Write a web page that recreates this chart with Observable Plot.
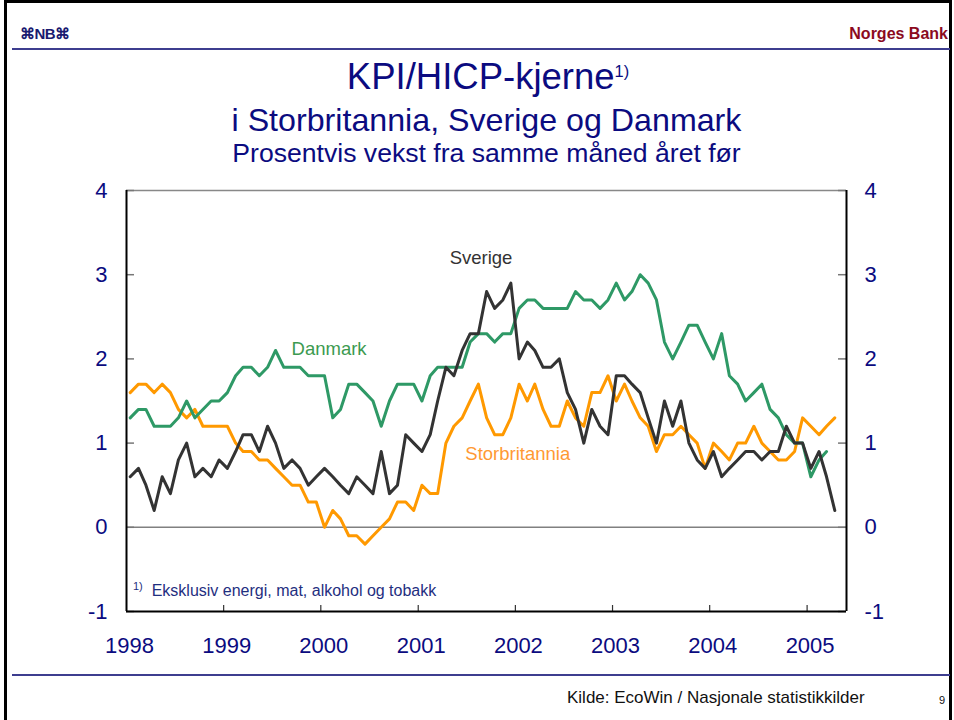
<!DOCTYPE html>
<html><head><meta charset="utf-8">
<script src="https://cdn.jsdelivr.net/npm/d3@7"></script>
<script src="https://cdn.jsdelivr.net/npm/@observablehq/plot@0.6"></script>
<style>
body{margin:0;background:#fff;font-family:"Liberation Sans",Arial,Helvetica,sans-serif;}
#page{position:relative;width:954px;height:720px;overflow:hidden;background:#fff;}
.abs{position:absolute;white-space:nowrap;line-height:1;}
#chart{position:absolute;left:0;top:170px;}
sup{font-size:0.45em;vertical-align:0.75em;line-height:0;}
</style></head><body>
<div id="page">
  <div class="abs" style="left:4px;top:0;width:942px;height:720px;border-left:3px solid #000;border-top:3px solid #000;border-right:3px solid #000;"></div>
  <div class="abs" style="left:20px;top:26px;font-size:15px;font-weight:bold;color:#1a1a70;letter-spacing:-0.5px;">⌘NB⌘</div>
  <div class="abs" style="right:6px;top:26px;font-size:16px;font-weight:bold;color:#8b0a1e;">Norges Bank</div>
  <div class="abs" style="left:12px;top:48px;width:938px;height:2px;background:#3d3d8f;"></div>
  <div class="abs" style="left:0;width:976px;text-align:center;top:59px;font-size:36.5px;color:#0b0b80;">KPI/HICP-kjerne<sup>1)</sup></div>
  <div class="abs" style="left:0;width:973px;text-align:center;top:104px;font-size:32.2px;color:#0b0b80;">i Storbritannia, Sverige og Danmark</div>
  <div class="abs" style="left:0;width:973px;text-align:center;top:140px;font-size:26.6px;color:#0b0b80;">Prosentvis vekst fra samme måned året før</div>
  <div id="chart"></div>
  <div class="abs" style="left:133px;top:583px;font-size:16px;color:#1f2f7f;"><sup style="font-size:11px;vertical-align:6px;">1)</sup>&nbsp; Eksklusiv energi, mat, alkohol og tobakk</div>
  <div class="abs" style="left:12px;top:674px;width:938px;height:2px;background:#3d3d8f;"></div>
  <div class="abs" style="left:567px;top:689px;font-size:17px;color:#111;">Kilde: EcoWin / Nasjonale statistikkilder</div>
  <div class="abs" style="left:939px;top:695px;font-size:11px;color:#111;">9</div>
</div>
<script>
// Monthly data, January 1998 – April 2005
const seriesNames = ["Storbritannia", "Danmark", "Sverige"];
const seriesColors = ["#ff9900", "#2e9966", "#333333"];

const sverige = [
  0.6,0.7,0.5,0.2,0.6,0.4,0.8,1.0,0.6,0.7,0.6,0.8,
  0.7,0.9,1.1,1.1,0.9,1.2,1.0,0.7,0.8,0.7,0.5,0.6,
  0.7,0.6,0.5,0.4,0.6,0.5,0.4,0.9,0.4,0.5,1.1,1.0,
  0.9,1.1,1.5,1.9,1.8,2.1,2.3,2.3,2.8,2.6,2.7,2.9,
  2.0,2.2,2.1,1.9,1.9,2.0,1.6,1.4,1.0,1.4,1.2,1.1,
  1.8,1.8,1.7,1.6,1.3,1.0,1.5,1.2,1.5,1.0,0.8,0.7,
  0.9,0.6,0.7,0.8,0.9,0.9,0.8,0.9,0.9,1.2,1.0,1.0,
  0.7,0.9,0.6,0.2
];
const danmark = [
  1.3,1.4,1.4,1.2,1.2,1.2,1.3,1.5,1.3,1.4,1.5,1.5,
  1.6,1.8,1.9,1.9,1.8,1.9,2.1,1.9,1.9,1.9,1.8,1.8,
  1.8,1.3,1.4,1.7,1.7,1.6,1.5,1.2,1.5,1.7,1.7,1.7,
  1.5,1.8,1.9,1.9,1.9,1.9,2.2,2.3,2.3,2.2,2.3,2.3,
  2.6,2.7,2.7,2.6,2.6,2.6,2.6,2.8,2.7,2.7,2.6,2.7,
  2.9,2.7,2.8,3.0,2.9,2.7,2.2,2.0,2.2,2.4,2.4,2.2,
  2.0,2.3,1.8,1.7,1.5,1.6,1.7,1.4,1.3,1.1,1.0,1.0,
  0.6,0.8,0.9
];
const storbritannia = [
  1.6,1.7,1.7,1.6,1.7,1.6,1.4,1.3,1.4,1.2,1.2,1.2,
  1.2,1.0,0.9,0.9,0.8,0.8,0.7,0.6,0.5,0.5,0.3,0.3,
  0.0,0.2,0.1,-0.1,-0.1,-0.2,-0.1,0.0,0.1,0.3,0.3,0.2,
  0.5,0.4,0.4,1.0,1.2,1.3,1.5,1.7,1.3,1.1,1.1,1.3,
  1.7,1.5,1.7,1.4,1.2,1.2,1.5,1.3,1.2,1.6,1.6,1.8,
  1.5,1.7,1.5,1.3,1.2,0.9,1.1,1.1,1.2,1.1,1.0,0.7,
  1.0,0.9,0.8,1.0,1.0,1.2,1.0,0.9,0.8,0.8,0.9,1.3,
  1.2,1.1,1.2,1.3
];

const yTicks = [-1, 0, 1, 2, 3, 4];
const yearTicks = [1998, 1999, 2000, 2001, 2002, 2003, 2004, 2005];

// Series labels (annotation positions)
const labelNames = ["Sverige", "Danmark", "Storbritannia"];
const labelDates = ["2001-08-25", "2000-02-01", "2002-01-10"];
const labelValues = [3.2, 2.12, 0.87];
const labelColors = ["#333333", "#3c9a50", "#ff9933"];

const navy = "#0b0b80";
const month = i => new Date(Date.UTC(1998, i, 15));
const seriesValues = [storbritannia, danmark, sverige];
const rows = seriesNames.map((name, k) =>
  seriesValues[k].map((v, i) => ({name, date: month(i), value: v})));

const x0 = new Date(Date.UTC(1998, 0, 1));
const x1 = new Date(Date.UTC(2005, 4, 29));
const years = yearTicks.map(y => new Date(Date.UTC(y, 0, 1)));
const fmt = d => d < 0 ? "-" + Math.abs(d) : String(d);
const tickLen = 30; // days (≈8px)

const labels = labelNames.map((n, i) => ({name: n, date: new Date(labelDates[i]), value: labelValues[i], color: labelColors[i]}));

const chart = Plot.plot({
  width: 954,
  height: 500,
  marginTop: 20,
  marginBottom: 59,
  marginLeft: 126,
  marginRight: 108,
  x: {type: "utc", domain: [x0, x1]},
  y: {domain: [-1, 4]},
  style: {fontFamily: '"Liberation Sans", Arial, sans-serif', background: "transparent", color: navy, overflow: "visible"},
  marks: [
    Plot.ruleY([4], {stroke: "#888", strokeWidth: 1.5}),
    Plot.ruleY([0], {stroke: "#808080", strokeWidth: 1.5}),
    Plot.ruleY(yTicks, {x1: x0, x2: d3.utcDay.offset(x0, tickLen), stroke: "#777", strokeWidth: 1.5}),
    Plot.ruleY(yTicks, {x1: d3.utcDay.offset(x1, -tickLen), x2: x1, stroke: "#777", strokeWidth: 1.5}),
    Plot.ruleX(years.slice(1), {y1: -1, y2: -1 + 6 / 84, stroke: "#333", strokeWidth: 1.2}),
    ...rows.map((r, k) => Plot.line(r, {x: "date", y: "value", stroke: seriesColors[k], strokeWidth: 3})),
    Plot.ruleX([x0], {stroke: "#000", strokeWidth: 2}),
    Plot.ruleX([x1], {stroke: "#000", strokeWidth: 2}),
    Plot.ruleY([-1], {stroke: "#000", strokeWidth: 2}),
    Plot.text(labels, {x: "date", y: "value", text: "name", fill: "color", fontSize: 18.5}),
    Plot.axisY({anchor: "left", ticks: yTicks, tickSize: 0, tickPadding: 19, tickFormat: fmt, fontSize: 22, fill: navy, label: null}),
    Plot.axisY({anchor: "right", ticks: yTicks, tickSize: 0, tickPadding: 18, tickFormat: fmt, fontSize: 22, fill: navy, label: null}),
    Plot.axisX({ticks: years, tickSize: 0, tickPadding: 26, tickFormat: d => String(d.getUTCFullYear()), fontSize: 22, fill: navy, dx: 3, label: null})
  ]
});
document.getElementById("chart").appendChild(chart);
</script>
</body></html>
